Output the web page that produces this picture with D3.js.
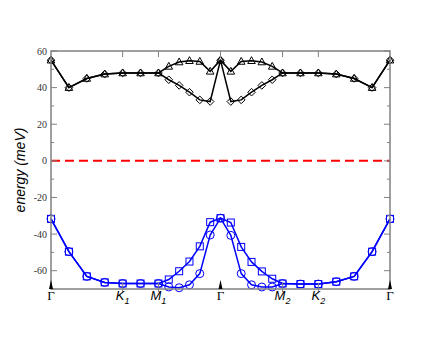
<!DOCTYPE html>
<html>
<head>
<meta charset="utf-8">
<script src="https://cdn.jsdelivr.net/npm/d3@7"></script>
<style>
  html, body { margin: 0; padding: 0; background: #fff; }
  svg { display: block; }
</style>
</head>
<body>
<div id="chart"></div>
<script>
// path coordinate along Γ-K1-M1-Γ-M2-K2-Γ
const kpath = [0, 0.25, 0.5, 0.75, 1.0, 1.25, 1.5, 1.644, 1.789, 1.933, 2.077, 2.222, 2.366,
  2.51, 2.655, 2.799, 2.943, 3.088, 3.232, 3.482, 3.732, 3.982, 4.232, 4.482, 4.732];

const upperTri = [55, 40, 45, 47.4, 48, 48, 48, 51.6, 54, 54.7, 54.3, 48.9, 55,
  48.9, 54.3, 54.7, 54, 51.6, 48, 48, 48, 47.4, 45, 40, 55];
const upperDia = [55, 40, 45, 47.4, 48, 48, 48, 44.3, 41.2, 37.5, 33.3, 32.4, 55,
  32.4, 33.3, 37.5, 41.2, 44.3, 48, 48, 48, 47.4, 45, 40, 55];
const lowerSq = [-31.7, -49.6, -63.1, -66.4, -67, -67, -67, -64.8, -60.3, -55, -46.7, -33.5, -31.3,
  -33.7, -47, -55.2, -60.4, -64.4, -67, -67.3, -67.3, -66, -63.1, -49.6, -31.7];
const lowerCirc = [-31.7, -49.6, -63.1, -66.4, -67, -67, -67, -68.9, -69.3, -67.7, -61.6, -40.5, -31.3,
  -40.7, -61.6, -67.7, -68.9, -68.9, -67, -67.3, -67.3, -66, -63.1, -49.6, -31.7];

const symPos = [0, 1, 1.5, 2.366, 3.232, 3.732, 4.732];
const symLabels = [["Γ", ""], ["K", "1"], ["M", "1"], ["Γ", ""], ["M", "2"], ["K", "2"], ["Γ", ""]];

const yTicks = [-60, -40, -20, 0, 20, 40, 60];
const yMinor = [-70, -50, -30, -10, 10, 30, 50];

const width = 440, height = 340;
const margin = { left: 51, right: 50, top: 51, bottom: 51 };

const svg = d3.select("#chart").append("svg")
  .attr("width", width)
  .attr("height", height);

const x = d3.scaleLinear().domain([0, 4.732]).range([margin.left, width - margin.right]);
const y = d3.scaleLinear().domain([-70, 60]).range([height - margin.bottom, margin.top]);

const axisColor = "#808080";
const x0 = x.range()[0], x1 = x.range()[1];
const yTop = y.range()[1], yBot = y.range()[0];

// zero line
svg.append("line")
  .attr("x1", x0).attr("x2", x1)
  .attr("y1", y(0)).attr("y2", y(0))
  .attr("stroke", "#ff0000")
  .attr("stroke-width", 2)
  .attr("stroke-dasharray", "9,5");

// lines
const line = (vals) => d3.line()
  .x((d, i) => x(kpath[i]))
  .y((d) => y(d))(vals);

const series = [
  { vals: upperTri, color: "#000", marker: "tri" },
  { vals: upperDia, color: "#000", marker: "dia" },
  { vals: lowerSq, color: "#0000ff", marker: "sq" },
  { vals: lowerCirc, color: "#0000ff", marker: "circ" }
];

series.forEach((s) => {
  svg.append("path")
    .attr("d", line(s.vals))
    .attr("fill", "none")
    .attr("stroke", s.color)
    .attr("stroke-width", 1.5);
});

series.forEach((s) => {
  const g = svg.append("g")
    .attr("fill", "none")
    .attr("stroke", s.color)
    .attr("stroke-width", 1);
  s.vals.forEach((v, i) => {
    const px = x(kpath[i]), py = y(v);
    if (s.marker === "tri") {
      g.append("path").attr("d", `M${px},${py - 4} L${px + 3.8},${py + 2.8} L${px - 3.8},${py + 2.8} Z`);
    } else if (s.marker === "dia") {
      g.append("path").attr("d", `M${px},${py - 3.8} L${px + 3.8},${py} L${px},${py + 3.8} L${px - 3.8},${py} Z`);
    } else if (s.marker === "sq") {
      g.append("rect").attr("x", px - 3.5).attr("y", py - 3.5).attr("width", 7).attr("height", 7);
    } else {
      g.append("circle").attr("cx", px).attr("cy", py).attr("r", 4);
    }
  });
});

// frame
svg.append("rect")
  .attr("x", x0).attr("y", yTop)
  .attr("width", x1 - x0).attr("height", yBot - yTop)
  .attr("fill", "none")
  .attr("stroke", axisColor)
  .attr("stroke-width", 1.5);

// y ticks (inside, both sides)
const tickG = svg.append("g").attr("stroke", axisColor).attr("stroke-width", 1);
yTicks.forEach((t) => {
  tickG.append("line").attr("x1", x0).attr("x2", x0 + 6).attr("y1", y(t)).attr("y2", y(t));
  tickG.append("line").attr("x1", x1).attr("x2", x1 - 6).attr("y1", y(t)).attr("y2", y(t));
});
yMinor.forEach((t) => {
  tickG.append("line").attr("x1", x0).attr("x2", x0 + 3).attr("y1", y(t)).attr("y2", y(t));
  tickG.append("line").attr("x1", x1).attr("x2", x1 - 3).attr("y1", y(t)).attr("y2", y(t));
});

svg.append("g")
  .selectAll("text")
  .data(yTicks)
  .join("text")
  .attr("x", x0 - 4)
  .attr("y", (d) => y(d))
  .attr("dy", "0.35em")
  .attr("text-anchor", "end")
  .attr("font-family", "'Liberation Serif', 'DejaVu Serif', serif")
  .attr("font-size", 10)
  .attr("fill", "#333")
  .text((d) => d);

// x ticks at symmetry points
symPos.forEach((p, i) => {
  const px = x(p);
  if (symLabels[i][0] === "Γ") {
    svg.append("path")
      .attr("d", `M${px - 2},${yBot} L${px},${yBot - 9} L${px + 2},${yBot} Z`)
      .attr("fill", "#000");
  } else {
    tickG.append("line").attr("x1", px).attr("x2", px).attr("y1", yTop).attr("y2", yTop + 6);
    tickG.append("line").attr("x1", px).attr("x2", px).attr("y1", yBot - 6).attr("y2", yBot + 3);
  }
  if (i === 3) {
    tickG.append("line").attr("x1", px).attr("x2", px).attr("y1", yTop).attr("y2", yTop + 6);
  }

  const t = svg.append("text")
    .attr("x", px)
    .attr("y", yBot + 11)
    .attr("text-anchor", "middle")
    .attr("fill", "#000");
  if (symLabels[i][0] === "Γ") {
    t.attr("font-family", "'Liberation Serif', 'DejaVu Serif', serif")
      .attr("font-size", 13)
      .text("Γ");
  } else {
    t.attr("font-family", "'Liberation Sans', Arial, sans-serif")
      .attr("font-size", 13)
      .attr("font-style", "italic");
    t.append("tspan").text(symLabels[i][0]);
    t.append("tspan").attr("font-size", 9).attr("dy", 4).text(symLabels[i][1]);
  }
});

// y label
svg.append("text")
  .attr("transform", `translate(25,${(yTop + yBot) / 2}) rotate(-90)`)
  .attr("text-anchor", "middle")
  .attr("font-family", "'Liberation Sans', Arial, sans-serif")
  .attr("font-style", "italic")
  .attr("font-size", 14)
  .attr("fill", "#000")
  .text("energy (meV)");
</script>
</body>
</html>
